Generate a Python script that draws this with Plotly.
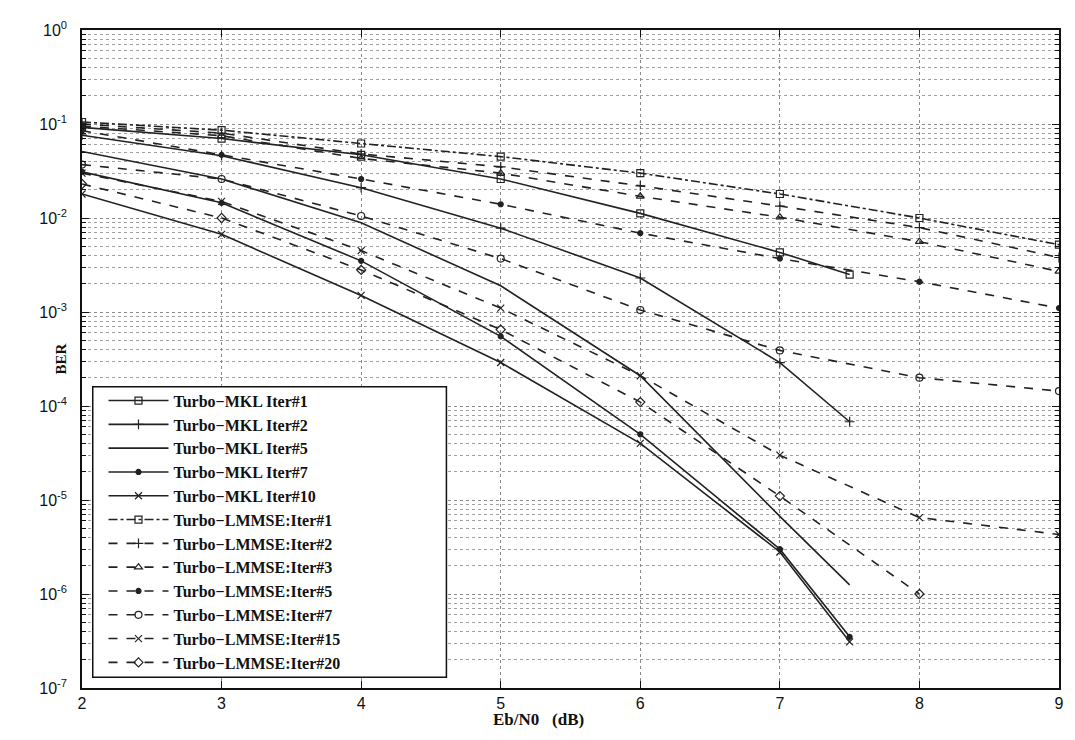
import plotly.graph_objects as go

# ---- data ----
x_mkl = [2, 3, 4, 5, 6, 7, 7.5]
mkl_iter1 = [0.092, 0.070, 0.047, 0.026, 0.0112, 0.0043, 0.0025]
mkl_iter2 = [0.076, 0.046, 0.021, 0.0078, 0.0023, 0.00029, 0.000068]
mkl_iter5 = [0.051, 0.026, 0.0089, 0.0019, 0.00021, 0.0000067, 0.00000125]
mkl_iter7 = [0.031, 0.0145, 0.0035, 0.00055, 0.00005, 0.0000030, 0.00000035]
mkl_iter10 = [0.018, 0.0067, 0.0015, 0.00029, 0.00004, 0.0000028, 0.00000031]

x_lmmse = [2, 3, 4, 5, 6, 7, 8, 9]
lmmse_iter1 = [0.105, 0.086, 0.062, 0.045, 0.030, 0.018, 0.0100, 0.0052]
lmmse_iter2 = [0.100, 0.080, 0.048, 0.035, 0.022, 0.0134, 0.0079, 0.0038]
lmmse_iter3 = [0.095, 0.075, 0.043, 0.030, 0.017, 0.0102, 0.0056, 0.0027]
lmmse_iter5 = [0.085, 0.047, 0.026, 0.014, 0.0069, 0.0037, 0.0021, 0.0011]
lmmse_iter7 = [0.037, 0.026, 0.0105, 0.0037, 0.00105, 0.00039, 0.00020, 0.000144]
lmmse_iter15 = [0.030, 0.0150, 0.0045, 0.0011, 0.00021, 0.000030, 0.0000065, 0.0000043]
x_lmmse20 = [2, 3, 4, 5, 6, 7, 8]
lmmse_iter20 = [0.023, 0.0100, 0.0028, 0.00065, 0.00011, 0.000011, 0.0000010]

y_tick_vals = [1e-7, 1e-6, 1e-5, 1e-4, 1e-3, 1e-2, 1e-1, 1]
y_tick_text = ["10<sup>-7</sup>", "10<sup>-6</sup>", "10<sup>-5</sup>", "10<sup>-4</sup>",
               "10<sup>-3</sup>", "10<sup>-2</sup>", "10<sup>-1</sup>", "10<sup>0</sup>"]

series = [
    ("Turbo\u2212MKL Iter#1", x_mkl, mkl_iter1, "solid", "square-open"),
    ("Turbo\u2212MKL Iter#2", x_mkl, mkl_iter2, "solid", "cross-thin-open"),
    ("Turbo\u2212MKL Iter#5", x_mkl, mkl_iter5, "solid", None),
    ("Turbo\u2212MKL Iter#7", x_mkl, mkl_iter7, "solid", "circle"),
    ("Turbo\u2212MKL Iter#10", x_mkl, mkl_iter10, "solid", "x-thin-open"),
    ("Turbo\u2212LMMSE:Iter#1", x_lmmse, lmmse_iter1, "dashdot", "square-open"),
    ("Turbo\u2212LMMSE:Iter#2", x_lmmse, lmmse_iter2, "dash", "cross-thin-open"),
    ("Turbo\u2212LMMSE:Iter#3", x_lmmse, lmmse_iter3, "dash", "triangle-up-open"),
    ("Turbo\u2212LMMSE:Iter#5", x_lmmse, lmmse_iter5, "dash", "circle"),
    ("Turbo\u2212LMMSE:Iter#7", x_lmmse, lmmse_iter7, "dash", "circle-open"),
    ("Turbo\u2212LMMSE:Iter#15", x_lmmse, lmmse_iter15, "dash", "x-thin-open"),
    ("Turbo\u2212LMMSE:Iter#20", x_lmmse20, lmmse_iter20, "dash", "diamond-open"),
]

fig = go.Figure()
for name, xs, ys, dash, sym in series:
    if sym is None:
        mode = "lines"
        marker = dict()
    else:
        mode = "lines+markers"
        size = 5 if sym == "circle" else 7
        marker = dict(symbol=sym, size=size, color="#222",
                      line=dict(color="#222", width=1.2))
    fig.add_trace(go.Scatter(
        x=xs, y=ys, name=name, mode=mode,
        line=dict(color="#222", width=1.6, dash=dash),
        marker=marker,
    ))

# page body has an 8px margin; plot area on screen: x 82..1064, y 22..688
fig.update_layout(
    width=1067, height=732,
    margin=dict(l=74, r=11, t=14, b=52),
    paper_bgcolor="white", plot_bgcolor="white",
    font=dict(family="Liberation Sans, Arial", size=15, color="#111"),
    showlegend=True,
    legend=dict(
        x=0.022, y=0.4625, xanchor="left", yanchor="top",
        bgcolor="rgba(0,0,0,0)", borderwidth=0,
        font=dict(family="Liberation Serif, Times New Roman", size=16,
                  color="#111", weight="bold"),
        itemwidth=60, tracegroupgap=0,
    ),
    shapes=[dict(
        type="rect", xref="paper", yref="paper",
        x0=0.011, x1=0.373, y0=0.0165, y1=0.458,
        fillcolor="white", line=dict(color="#111", width=1.5), layer="above",
    )],
    annotations=[
        dict(text="<b>BER</b>", xref="paper", yref="paper",
             x=-0.022, y=0.5, textangle=-90, showarrow=False,
             xanchor="center", yanchor="middle",
             font=dict(family="Liberation Serif, Times New Roman", size=15, color="#111")),
        dict(text="<b>Eb/N0   (dB)</b>", xref="paper", yref="paper",
             x=0.467, y=-0.048, showarrow=False,
             xanchor="center", yanchor="middle",
             font=dict(family="Liberation Serif, Times New Roman", size=17, color="#111")),
    ],
)

fig.update_xaxes(
    range=[2, 9], dtick=1, tick0=2,
    showline=True, linecolor="#111", linewidth=1.5, mirror="ticks",
    ticks="inside", ticklen=7, tickcolor="#111",
    showgrid=True, gridcolor="#8a8a8a", griddash="dot", gridwidth=1,
    zeroline=False,
    tickfont=dict(size=16),
)
fig.update_yaxes(
    type="log", range=[-7, 0],
    tickmode="array", tickvals=y_tick_vals, ticktext=y_tick_text,
    showline=True, linecolor="#111", linewidth=1.5, mirror="ticks",
    ticks="inside", ticklen=7, tickcolor="#111",
    showgrid=True, gridcolor="#8a8a8a", griddash="dot", gridwidth=1,
    zeroline=False,
    tickfont=dict(size=16), ticklabelstandoff=10,
    minor=dict(dtick="D1", ticks="inside", ticklen=4, tickcolor="#111",
               showgrid=True, gridcolor="#a0a0a0", griddash="dot", gridwidth=1),
)

fig.write_html("out.html")
